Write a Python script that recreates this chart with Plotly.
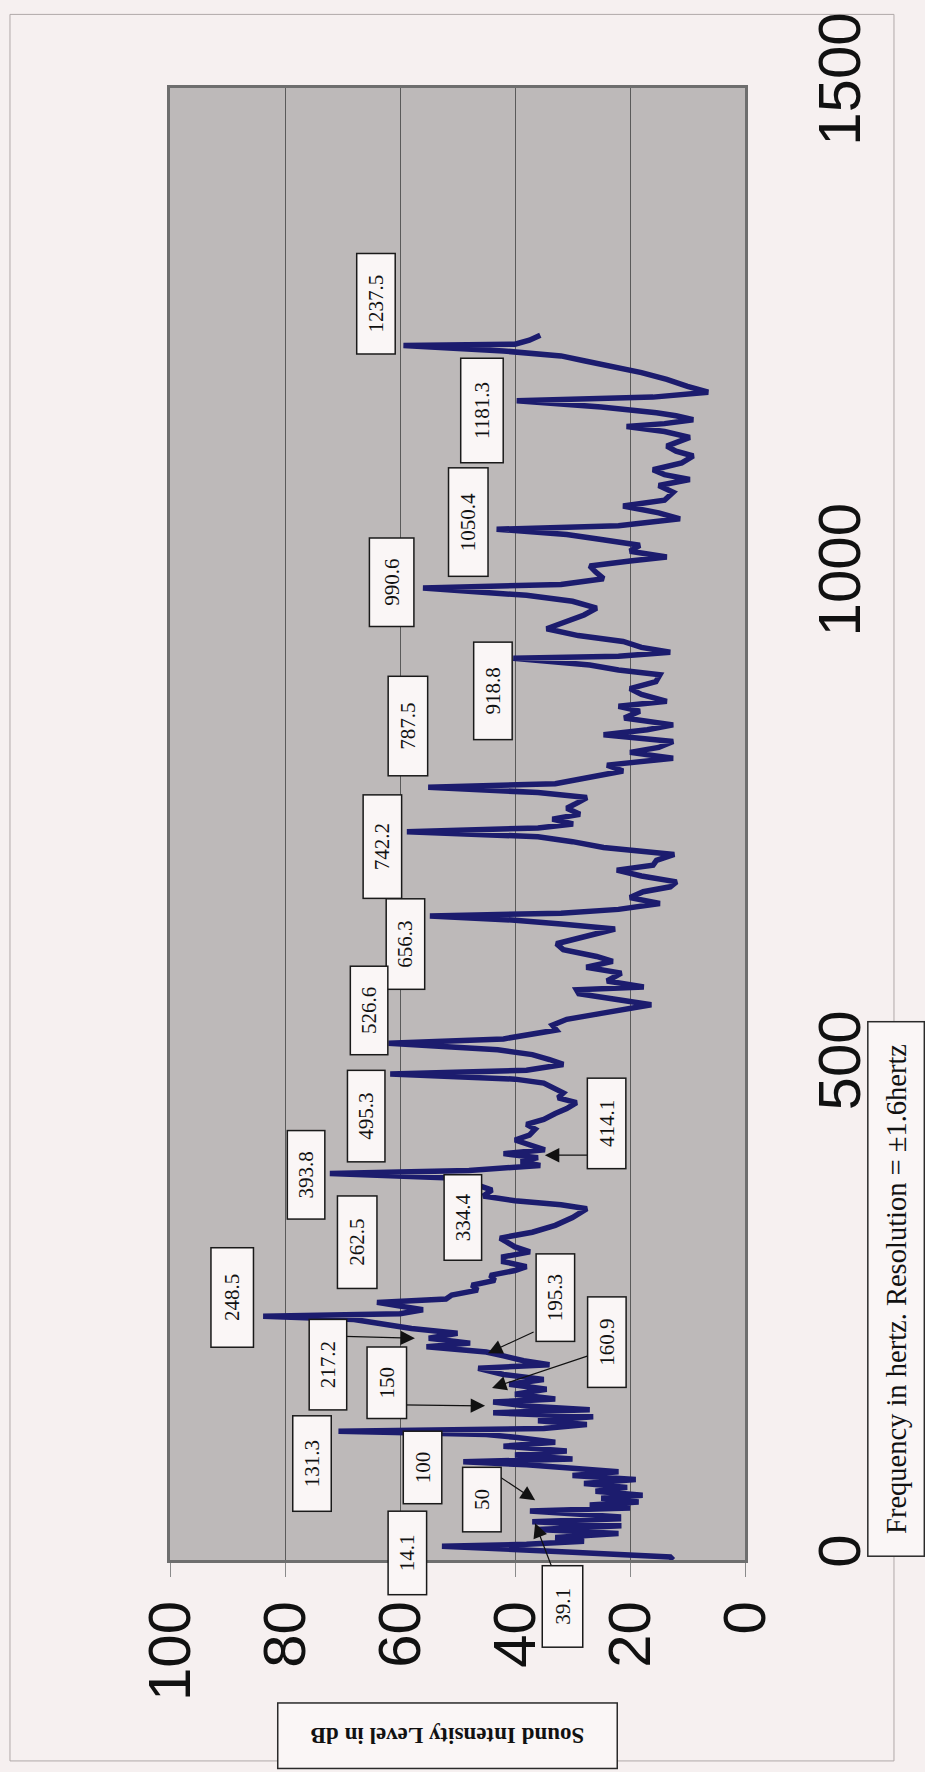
import plotly.graph_objects as go

# Measured spectrum: frequency (Hz) against sound intensity level (dB)
freq_hz = [
    0, 3, 8, 12, 14.1, 16, 19, 23, 27, 31, 35, 39.1, 42, 44, 47, 50, 53,
    56, 59, 63, 66, 70, 74, 78, 82, 86, 90, 94, 97, 100, 103, 107, 111, 116,
    120, 125, 128, 131.3, 134, 138, 142, 146, 150, 153, 157, 160.9, 164, 169,
    174, 179, 184, 189, 195.3, 199, 203, 208, 212, 217.2, 221, 226, 231, 236,
    241, 245, 248.5, 251, 255, 258, 262.5, 266, 270, 275, 280, 285, 290, 295,
    299, 304, 309, 314, 319, 324, 328, 334, 341, 349, 355, 358, 362, 366, 371,
    377, 383, 389, 393.8, 397, 402, 406, 410, 414.1, 418, 423, 428, 433, 439,
    444, 449, 455, 460, 466, 471, 476, 481, 486, 490, 495.3, 499, 505, 510,
    515, 520, 526.6, 531, 536, 540, 545, 551, 557, 562, 565.8, 571, 577, 581,
    584, 590, 598, 604, 610, 615, 622, 628, 634, 640, 643, 648, 652, 656.3,
    659, 663, 669, 675, 681, 686, 691, 697, 703, 708, 713, 719, 726, 732, 737,
    742.2, 746, 750, 755, 760, 766, 772, 777, 782, 787.5, 791, 797, 804, 810,
    817, 823, 828, 834, 841, 846, 851, 858, 865, 870, 875, 882, 888, 895, 902,
    907, 912, 918.8, 921, 925, 930, 936, 942, 949, 956, 963, 970, 977, 983,
    990.6, 994, 1000, 1007, 1013, 1018, 1022, 1028, 1034, 1040, 1045, 1050.4,
    1054, 1061, 1067, 1074, 1080, 1088, 1095, 1101, 1106, 1111, 1118, 1125,
    1130, 1135, 1140, 1144, 1150, 1155, 1158, 1162, 1166, 1169, 1175, 1181.3,
    1185, 1190, 1196, 1203, 1210, 1216, 1222, 1227, 1232, 1237.5, 1239, 1243,
    1248,
]
level_db = [
    12.5, 13, 30, 45, 52.7, 38, 28, 33, 22, 36, 21.5, 37, 22, 22, 30, 37.4, 20,
    27, 18.5, 25, 17.8, 26, 20.5, 28, 19, 30, 22, 32, 38, 49, 30, 40, 31, 42,
    33, 40, 45, 70.7, 35, 27.5, 36, 26.4, 43.8, 27, 38, 43.8, 33, 40,
    34.5, 41, 35, 42, 46.4, 34, 38.5, 42, 45, 55.4, 47.8, 55, 50, 58,
    63, 68, 83.8, 60, 56, 59, 64, 52, 51, 46.5, 47.5, 43.5, 44.3, 40,
    38, 42, 42, 37.4, 40, 41.4, 42.6, 37, 33, 30, 28.5, 27.5, 32, 40, 45.5,
    44, 47, 50, 72.2, 48, 35.6, 39, 36, 42, 34.8, 37.5, 40, 37.5, 36.5,
    38, 35, 33, 31, 29.3, 32.5, 31.6, 33.5, 35, 40, 61.7, 38, 31.6, 34,
    37, 43, 62, 42, 36, 32.8, 33.5, 31, 25, 20, 16.3, 22, 28.9, 29.3,
    17.6, 24, 21.5, 27.6, 23, 25.8, 31.6, 32.8, 28.3, 24, 22.6, 32, 40, 54.8,
    32, 22, 14.8, 20, 17.7, 13, 11.9, 18, 22.3, 16, 15.4, 12.3, 24.6, 30, 36,
    58.8, 36, 29.9, 33.5, 28.7, 31, 29, 27.5, 36, 55.1, 33, 27, 21.2, 24,
    12.5, 20, 15, 12.5, 24.6, 17, 12.5, 21, 18.3, 22, 13.6, 18, 20, 15.5, 14.8,
    22, 27, 40.3, 22, 13, 18, 21.2, 29, 34.5, 31, 28, 25.8, 30, 38,
    56, 32, 24.6, 26, 27, 20, 13.6, 20, 18.3, 25, 31, 43.2,
    22, 11.3, 15, 21.2, 14, 12.5, 15, 9.6, 14, 16, 11, 9,
    12, 13.6, 11, 9.6, 14, 20.6, 14, 9, 12, 15.4, 25, 39.7,
    16, 6.4, 10, 13.6, 18, 23.5, 28, 32, 42, 59.4, 40, 37.5,
    35.6,
]

# Peak frequency labels
label_text = [
    "1237.5", "1181.3", "1050.4", "990.6", "918.8", "787.5", "742.2", "656.3",
    "526.6", "495.3", "414.1", "393.8", "334.4", "262.5", "248.5", "195.3",
    "160.9", "217.2", "150", "131.3", "100", "50", "14.1", "39.1",
]

# Label box placement: centre (dB, Hz), box length and thickness in px
label_boxes = [
    (64.2, 1280.0, 102, 40), (45.7, 1171.6, 106, 44), (48.1, 1058.1, 110, 41),
    (61.4, 996.3, 90, 46), (43.8, 885.3, 99, 40), (58.7, 849.8, 101, 41),
    (63.0, 727.2, 105, 40), (59.0, 627.4, 92, 40), (65.3, 559.5, 90, 39),
    (65.8, 452.5, 93, 39), (24.0, 444.9, 92, 40), (76.4, 392.2, 90, 39),
    (49.1, 349.2, 87, 39), (67.4, 324.3, 94, 41), (89.2, 267.1, 101, 44),
    (33.0, 267.1, 89, 40), (24.0, 222.0, 92, 40), (72.6, 198.6, 92, 39),
    (62.3, 180.9, 73, 41), (75.3, 97.8, 97, 40), (56.0, 94.3, 74, 40),
    (45.7, 61.8, 66, 40), (58.8, 7.6, 85, 40), (31.7, -47.1, 83, 42),
]

# Pointer arrows: tail (dB, Hz) -> head (dB, Hz)
pointer_arrows = [
    (69.9, 228.0, 57.4, 226.0),
    (60.0, 158.1, 45.2, 157.1),
    (36.5, 233.1, 44.7, 210.8),
    (26.4, 209.8, 44.0, 175.3),
    (43.0, 86.1, 36.5, 60.8),
    (33.6, -7.1, 36.5, 37.5),
    (26.1, 412.5, 34.8, 412.5),
]

db_ticks = [0, 20, 40, 60, 80, 100]
hz_ticks = [0, 500, 1000, 1500]
DB_RANGE = [100, 0]
HZ_RANGE = [0, 1500]

SANS = "Liberation Sans, Arial, sans-serif"
SERIF = "Liberation Serif, Times New Roman, serif"
INK = "#111111"


def to_paper(db, hz):
    """Map a (dB, Hz) point to paper fractions so boxes may sit outside the axes."""
    px = (db - DB_RANGE[0]) / (DB_RANGE[1] - DB_RANGE[0])
    py = (hz - HZ_RANGE[0]) / (HZ_RANGE[1] - HZ_RANGE[0])
    return px, py


fig = go.Figure(
    go.Scatter(
        x=level_db,
        y=freq_hz,
        mode="lines",
        line=dict(color="#1c1c6e", width=5.5),
        hoverinfo="skip",
        showlegend=False,
    )
)

annotations = []
for tx, ty, hx, hy in pointer_arrows:
    annotations.append(dict(
        x=hx, y=hy, xref="x", yref="y",
        ax=tx, ay=ty, axref="x", ayref="y",
        text="", showarrow=True,
        arrowhead=2, arrowsize=2.4, arrowwidth=1.2,
        arrowcolor=INK, standoff=0, startstandoff=0,
    ))

for text, (cx, cy, length, thick) in zip(label_text, label_boxes):
    px, py = to_paper(cx, cy)
    annotations.append(dict(
        x=px, y=py, xref="paper", yref="paper",
        text=text, showarrow=False, textangle=-90,
        xanchor="center", yanchor="middle",
        width=length - 3, height=thick - 3,
        align="center", valign="middle",
        font=dict(family=SERIF, size=21, color=INK),
        bgcolor="#faf6f6", bordercolor="#1a1a1a", borderwidth=1.5, borderpad=0,
    ))

# Axis title boxes
annotations.append(dict(
    x=0.4826, y=-0.1193, xref="paper", yref="paper",
    text="Sound Intensity Level in dB", showarrow=False, textangle=180,
    xanchor="center", yanchor="middle",
    width=338, height=64, align="center", valign="middle",
    font=dict(family=SERIF, size=23, color=INK, weight="bold"),
    bgcolor="#faf6f6", bordercolor="#2a2a2a", borderwidth=1.5, borderpad=0,
))
annotations.append(dict(
    x=1.2635, y=0.1838, xref="paper", yref="paper",
    text="Frequency in hertz. Resolution = \u00b11.6hertz", showarrow=False,
    textangle=-90, xanchor="center", yanchor="middle",
    width=533, height=55, align="center", valign="middle",
    font=dict(family=SERIF, size=28.5, color=INK),
    bgcolor="#faf6f6", bordercolor="#2a2a2a", borderwidth=1.5, borderpad=0,
))

fig.update_layout(
    width=925, height=1772, autosize=False,
    margin=dict(l=170, r=180, t=80, b=212),
    paper_bgcolor="#f6f0f0",
    plot_bgcolor="#bdb9b9",
    showlegend=False,
    annotations=annotations,
    shapes=[dict(
        type="rect", xref="paper", yref="paper",
        x0=-0.2783, x1=1.2591, y0=-0.1365, y1=1.05,
        line=dict(color="#b0a8a8", width=1), layer="below",
    )],
    xaxis=dict(
        range=DB_RANGE, tickvals=db_ticks, tickangle=-90,
        tickfont=dict(family=SANS, size=60, color=INK),
        showgrid=True, gridcolor="#5a5a5a", gridwidth=1, zeroline=False,
        showline=True, linecolor="#6e6e6e", linewidth=3, mirror=True,
        ticks="outside", ticklen=14, tickcolor="#8a8a8a", tickwidth=1,
        ticklabelstandoff=0,
    ),
    yaxis=dict(
        range=HZ_RANGE, tickvals=hz_ticks, side="right", tickangle=-90,
        tickfont=dict(family=SANS, size=60, color=INK),
        showgrid=False, zeroline=False,
        showline=True, linecolor="#6e6e6e", linewidth=3, mirror=True,
        ticks="", ticklabelstandoff=40,
    ),
)

fig.write_html("out.html", config={"displayModeBar": False})
